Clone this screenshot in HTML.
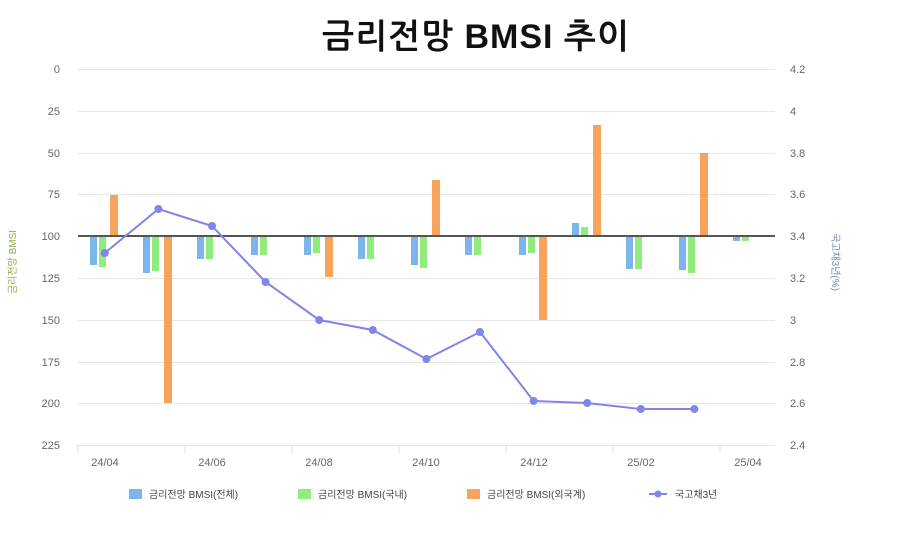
<!DOCTYPE html>
<html><head><meta charset="utf-8"><style>
body{margin:0;background:#fff;}
svg text{font-family:"Liberation Sans","Noto Sans CJK KR",sans-serif;}
</style></head><body>
<svg width="900" height="537" xmlns="http://www.w3.org/2000/svg">
<text x="476" y="48" text-anchor="middle" font-size="34" font-weight="bold" fill="#111" letter-spacing="1" style="font-family:'Liberation Sans','NanumGothic','Noto Sans CJK KR',sans-serif">금리전망 BMSI 추이</text>
<g stroke="#e6e6e6" stroke-width="1">
<line x1="78" x2="775" y1="69.5" y2="69.5"/><line x1="78" x2="775" y1="111.5" y2="111.5"/><line x1="78" x2="775" y1="153.5" y2="153.5"/><line x1="78" x2="775" y1="194.5" y2="194.5"/><line x1="78" x2="775" y1="278.5" y2="278.5"/><line x1="78" x2="775" y1="320.5" y2="320.5"/><line x1="78" x2="775" y1="362.5" y2="362.5"/><line x1="78" x2="775" y1="403.5" y2="403.5"/><line x1="78" x2="775" y1="445.5" y2="445.5"/>
</g>
<g stroke="#ddd"><line x1="78" x2="78" y1="445" y2="453"/><line x1="185" x2="185" y1="445" y2="453"/><line x1="292" x2="292" y1="445" y2="453"/><line x1="399" x2="399" y1="445" y2="453"/><line x1="506" x2="506" y1="445" y2="453"/><line x1="613" x2="613" y1="445" y2="453"/><line x1="720" x2="720" y1="445" y2="453"/></g>
<g font-size="11" fill="#666" text-anchor="end">
<text x="60" y="73">0</text><text x="60" y="115">25</text><text x="60" y="157">50</text><text x="60" y="198">75</text><text x="60" y="240">100</text><text x="60" y="282">125</text><text x="60" y="324">150</text><text x="60" y="366">175</text><text x="60" y="407">200</text><text x="60" y="449">225</text>
</g>
<g font-size="11" fill="#666">
<text x="790" y="73">4.2</text><text x="790" y="115">4</text><text x="790" y="157">3.8</text><text x="790" y="198">3.6</text><text x="790" y="240">3.4</text><text x="790" y="282">3.2</text><text x="790" y="324">3</text><text x="790" y="366">2.8</text><text x="790" y="407">2.6</text><text x="790" y="449">2.4</text>
</g>
<g font-size="11" fill="#666" text-anchor="middle">
<text x="105" y="466">24/04</text><text x="212" y="466">24/06</text><text x="319" y="466">24/08</text><text x="426" y="466">24/10</text><text x="534" y="466">24/12</text><text x="641" y="466">25/02</text><text x="748" y="466">25/04</text>
</g>
<text transform="translate(16,262) rotate(-90)" font-size="10" fill="#8db04a" text-anchor="middle">금리전망 BMSI</text>
<text transform="translate(832,262) rotate(90)" font-size="10" fill="#6a8fc0" text-anchor="middle">국고채3년(%)</text>
<g fill="#7cb5ec">
<rect x="90" y="236" width="7" height="29"/><rect x="143" y="236" width="7" height="37"/><rect x="197" y="236" width="7" height="23"/><rect x="251" y="236" width="7" height="19"/><rect x="304" y="236" width="7" height="19"/><rect x="358" y="236" width="7" height="23"/><rect x="411" y="236" width="7" height="29"/><rect x="465" y="236" width="7" height="19"/><rect x="519" y="236" width="7" height="19"/><rect x="572" y="223" width="7" height="13"/><rect x="626" y="236" width="7" height="33"/><rect x="679" y="236" width="7" height="34"/><rect x="733" y="236" width="7" height="5"/>
</g>
<g fill="#90ed7d">
<rect x="99" y="236" width="7" height="31"/><rect x="152" y="236" width="7" height="35"/><rect x="206" y="236" width="7" height="23"/><rect x="260" y="236" width="7" height="19"/><rect x="313" y="236" width="7" height="17"/><rect x="367" y="236" width="7" height="23"/><rect x="420" y="236" width="7" height="32"/><rect x="474" y="236" width="7" height="19"/><rect x="528" y="236" width="7" height="17"/><rect x="581" y="227" width="7" height="9"/><rect x="635" y="236" width="7" height="33"/><rect x="688" y="236" width="7" height="37"/><rect x="742" y="236" width="7" height="5"/>
</g>
<g fill="#f7a35c">
<rect x="110" y="195" width="8" height="41"/><rect x="164" y="236" width="8" height="167"/><rect x="325" y="236" width="8" height="41"/><rect x="432" y="180" width="8" height="56"/><rect x="539" y="236" width="8" height="84"/><rect x="593" y="125" width="8" height="111"/><rect x="700" y="153" width="8" height="83"/>
</g>
<line x1="78" x2="775" y1="236" y2="236" stroke="#555" stroke-width="2"/>
<polyline fill="none" stroke="#8085e9" stroke-width="2" points="104.8,253 158.4,209 212,226 265.6,282 319.2,320 372.8,330 426.4,359 480,332 533.6,401 587.2,403 640.8,409 694.4,409"/>
<g fill="#8085e9">
<circle cx="104.8" cy="253" r="4"/><circle cx="158.4" cy="209" r="4"/><circle cx="212" cy="226" r="4"/><circle cx="265.6" cy="282" r="4"/><circle cx="319.2" cy="320" r="4"/><circle cx="372.8" cy="330" r="4"/><circle cx="426.4" cy="359" r="4"/><circle cx="480" cy="332" r="4"/><circle cx="533.6" cy="401" r="4"/><circle cx="587.2" cy="403" r="4"/><circle cx="640.8" cy="409" r="4"/><circle cx="694.4" cy="409" r="4"/>
</g>
<g font-size="10" fill="#444">
<rect x="129" y="489" width="13" height="10" fill="#7cb5ec"/><text x="149" y="498">금리전망 BMSI(전체)</text>
<rect x="298" y="489" width="13" height="10" fill="#90ed7d"/><text x="318" y="498">금리전망 BMSI(국내)</text>
<rect x="467" y="489" width="13" height="10" fill="#f7a35c"/><text x="487" y="498">금리전망 BMSI(외국계)</text>
<line x1="649" x2="667" y1="494" y2="494" stroke="#8085e9" stroke-width="2"/><circle cx="658" cy="494" r="3.5" fill="#8085e9"/><text x="675" y="498">국고채3년</text>
</g>
</svg>
</body></html>
